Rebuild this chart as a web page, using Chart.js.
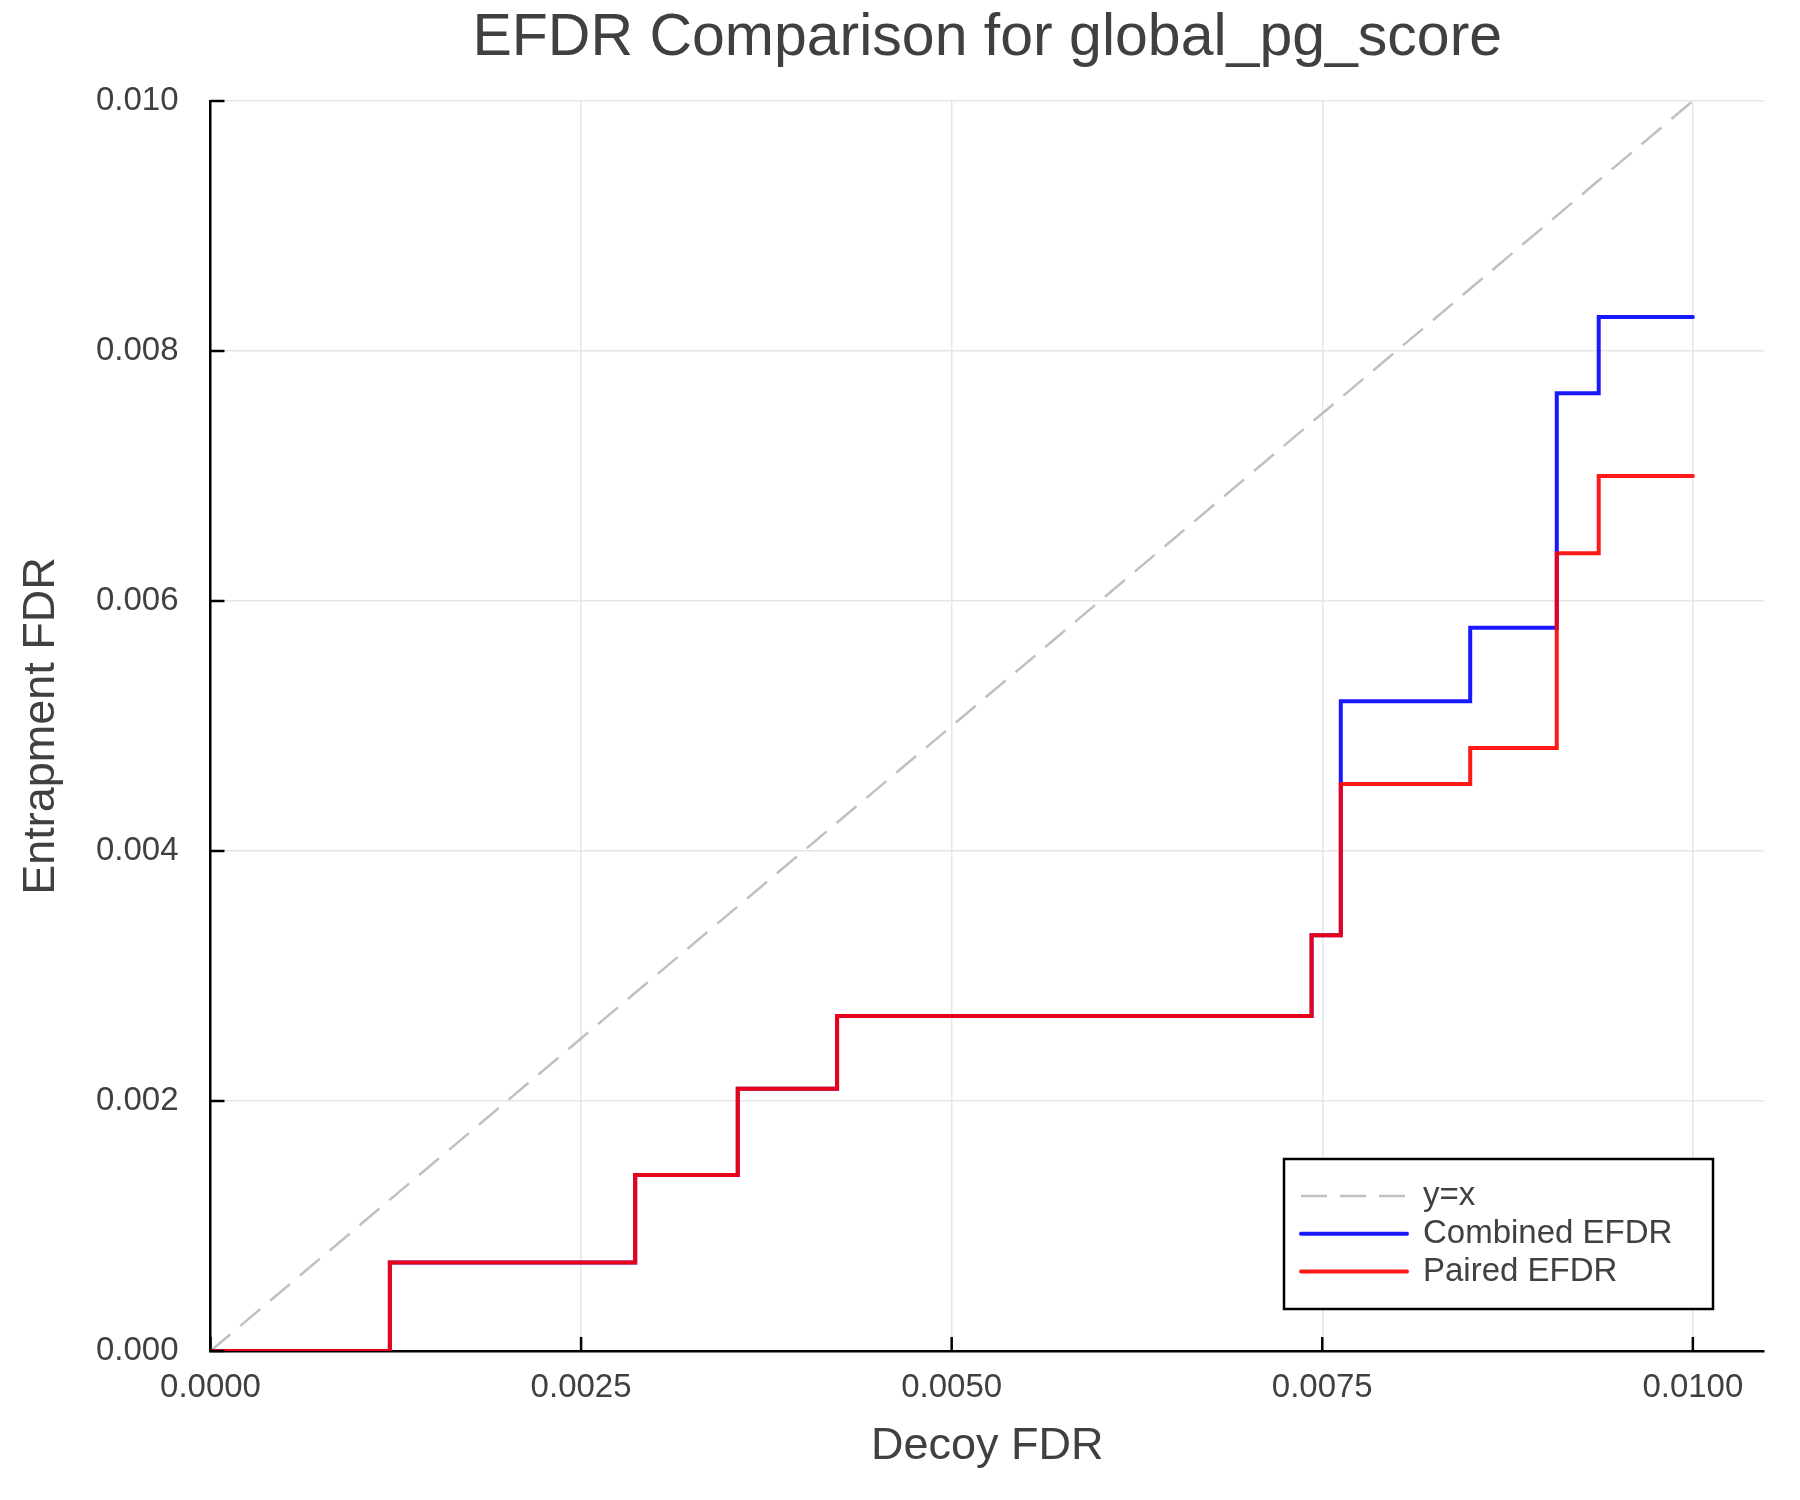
<!DOCTYPE html>
<html>
<head>
<meta charset="utf-8">
<title>EFDR Comparison for global_pg_score</title>
<script src="https://cdn.jsdelivr.net/npm/chart.js@4.4.1/dist/chart.umd.min.js"></script>
<style>
    html, body { margin: 0; padding: 0; background: #ffffff; }
    #wrap { width: 1800px; height: 1500px; }
</style>
</head>
<body>
<div id="wrap"><canvas id="efdrChart" width="1800" height="1500"></canvas></div>
<script>
// Step positions (decoy FDR) and the entrapment FDR reached at each step
const decoyFdr     = [0, 0.00121, 0.002865, 0.003557, 0.004227, 0.007428, 0.007625, 0.008498, 0.009082, 0.009365, 0.0100];
const combinedEfdr = [0, 0.000709, 0.001408, 0.002099, 0.00268, 0.003326, 0.005198, 0.005787, 0.007663, 0.008273, 0.008273];
const pairedEfdr   = [0, 0.000709, 0.001408, 0.002099, 0.00268, 0.003326, 0.004537, 0.004824, 0.006382, 0.007001, 0.007001];

// y = x reference line
const diagX = [0, 0.01];
const diagY = [0, 0.01];

// Axis ticks
const xTicks = [0, 0.0025, 0.005, 0.0075, 0.01];
const yTicks = [0, 0.002, 0.004, 0.006, 0.008, 0.01];
const xMax = 0.01048;
const yMax = 0.01;

const chartTitle = 'EFDR Comparison for global_pg_score';
const textColor = '#404040';
const fontFamily = '"Liberation Sans", Arial, Helvetica, sans-serif';

function toPoints(xs, ys) {
    return xs.map(function(x, i) { return { x: x, y: ys[i] }; });
}

// Title centred over the plot area rather than the whole canvas
const plotTitle = {
    id: 'plotTitle',
    afterDraw: function(chart) {
        const ctx = chart.ctx;
        const area = chart.chartArea;
        ctx.save();
        ctx.font = '59px ' + fontFamily;
        ctx.fillStyle = textColor;
        ctx.textAlign = 'center';
        ctx.textBaseline = 'middle';
        ctx.fillText(chartTitle, (area.left + area.right) / 2, 39);
        ctx.restore();
    }
};

// Short tick marks drawn inside the plot area
const insideTicks = {
    id: 'insideTicks',
    afterDatasetsDraw: function(chart) {
        const ctx = chart.ctx;
        const area = chart.chartArea;
        const xs = chart.scales.x;
        const ys = chart.scales.y;
        const len = 14;
        ctx.save();
        ctx.strokeStyle = '#000000';
        ctx.lineWidth = 2.5;
        xs.ticks.forEach(function(t) {
            const px = xs.getPixelForValue(t.value);
            ctx.beginPath();
            ctx.moveTo(px, area.bottom);
            ctx.lineTo(px, area.bottom - len);
            ctx.stroke();
        });
        ys.ticks.forEach(function(t) {
            const py = ys.getPixelForValue(t.value);
            ctx.beginPath();
            ctx.moveTo(area.left, py);
            ctx.lineTo(area.left + len, py);
            ctx.stroke();
        });
        ctx.restore();
    }
};

// Boxed legend in the lower right corner of the plot
const boxLegend = {
    id: 'boxLegend',
    afterDraw: function(chart) {
        const ctx = chart.ctx;
        const area = chart.chartArea;
        const w = 429, h = 150;
        const right = area.right - 51;
        const bottom = area.bottom - 42;
        const left = right - w;
        const top = bottom - h;
        ctx.save();
        ctx.fillStyle = '#ffffff';
        ctx.fillRect(left, top, w, h);
        ctx.strokeStyle = '#000000';
        ctx.lineWidth = 2.5;
        ctx.strokeRect(left, top, w, h);

        ctx.font = '33px ' + fontFamily;
        ctx.textBaseline = 'middle';
        ctx.textAlign = 'left';
        chart.data.datasets.forEach(function(ds, i) {
            const y = top + 37 + i * 37.8;
            ctx.beginPath();
            ctx.strokeStyle = ds.borderColor;
            ctx.lineWidth = ds.borderWidth;
            ctx.setLineDash(ds.borderDash || []);
            ctx.lineCap = ds.borderDash ? 'butt' : 'round';
            ctx.moveTo(left + 17, y);
            ctx.lineTo(left + 123, y);
            ctx.stroke();
            ctx.setLineDash([]);
            ctx.fillStyle = textColor;
            ctx.fillText(ds.label, left + 139, y);
        });
        ctx.restore();
    }
};

const ctx = document.getElementById('efdrChart');

new Chart(ctx, {
    type: 'line',
    data: {
        datasets: [
            {
                label: 'y=x',
                data: toPoints(diagX, diagY),
                borderColor: '#c0c0c0',
                borderWidth: 2.5,
                borderDash: [26, 13],
                pointRadius: 0,
                order: 2
            },
            {
                label: 'Combined EFDR',
                data: toPoints(decoyFdr, combinedEfdr),
                borderColor: 'rgba(0, 0, 255, 0.9)',
                borderWidth: 4,
                stepped: 'before',
                borderCapStyle: 'round',
                pointRadius: 0,
                order: 1
            },
            {
                label: 'Paired EFDR',
                data: toPoints(decoyFdr, pairedEfdr),
                borderColor: 'rgba(255, 0, 0, 0.9)',
                borderWidth: 4,
                stepped: 'before',
                borderCapStyle: 'round',
                pointRadius: 0,
                order: 0
            }
        ]
    },
    options: {
        responsive: false,
        animation: false,
        devicePixelRatio: 1,
        layout: {
            padding: { left: 0, right: 36, top: 101, bottom: 0 }
        },
        plugins: {
            legend: { display: false },
            tooltip: { enabled: false },
            title: { display: false }
        },
        scales: {
            x: {
                type: 'linear',
                min: 0,
                max: xMax,
                afterBuildTicks: function(scale) {
                    scale.ticks = xTicks.map(function(v) { return { value: v }; });
                },
                afterFit: function(scale) {
                    scale.height = 1500 - 1351;
                },
                ticks: {
                    color: textColor,
                    font: { family: fontFamily, size: 33 },
                    padding: 17,
                    maxRotation: 0,
                    callback: function(value) { return Number(value).toFixed(4); }
                },
                grid: { color: '#e6e6e6', lineWidth: 1.5, drawTicks: false },
                border: { display: true, color: '#000000', width: 2.5 },
                title: {
                    display: true,
                    text: 'Decoy FDR',
                    color: textColor,
                    font: { family: fontFamily, size: 45 },
                    padding: { top: 0, bottom: 26 }
                }
            },
            y: {
                type: 'linear',
                min: 0,
                max: yMax,
                afterBuildTicks: function(scale) {
                    scale.ticks = yTicks.map(function(v) { return { value: v }; });
                },
                afterFit: function(scale) {
                    scale.width = 210.5;
                },
                ticks: {
                    color: textColor,
                    font: { family: fontFamily, size: 33 },
                    padding: 32,
                    callback: function(value) { return Number(value).toFixed(3); }
                },
                grid: { color: '#e6e6e6', lineWidth: 1.5, drawTicks: false },
                border: { display: true, color: '#000000', width: 2.5 },
                title: {
                    display: true,
                    text: 'Entrapment FDR',
                    color: textColor,
                    font: { family: fontFamily, size: 45 },
                    padding: { top: 15, bottom: 0 }
                }
            }
        }
    },
    plugins: [plotTitle, insideTicks, boxLegend]
});
</script>
</body>
</html>
